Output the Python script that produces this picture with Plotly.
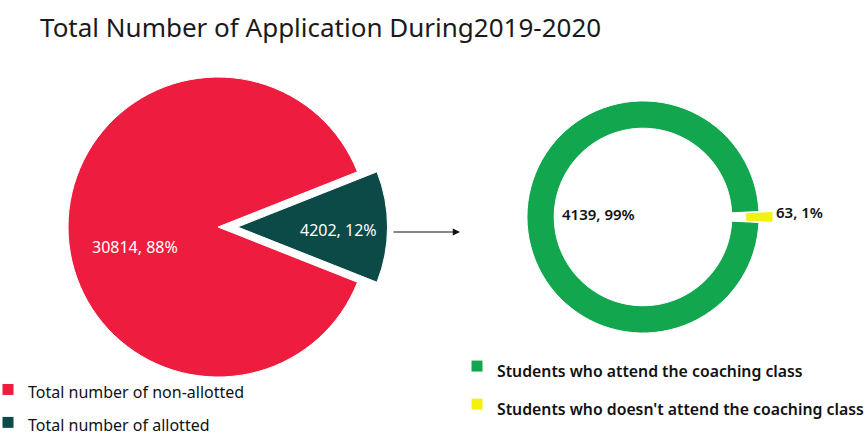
import plotly.graph_objects as go

# Application totals for 2019-2020
app_labels = ["Total number of non-allotted", "Total number of allotted"]
app_values = [30814, 4202]
app_colors = ["#EE1D3F", "#0C4A47"]

# Allotted students split by coaching-class attendance
coach_labels = ["Students who attend the coaching class",
                "Students who doesn't attend the coaching class"]
coach_values = [4139, 63]
coach_colors = ["#12A64F", "#F2F20E"]

W, H = 866, 438


def px_x(x):
    return x / W


def px_y(y):
    return 1 - y / H


def label_text(values, i):
    total = sum(values)
    return f"{values[i]}, {round(100 * values[i] / total)}%"


def legend_label(text, size):
    return f"<span style='font-size:{size}px'>{text}</span>"


# rotate so the last slice is centred at 3 o'clock
app_rot = 90 + 360 * app_values[-1] / sum(app_values) / 2
coach_rot = 90 + 360 * coach_values[-1] / sum(coach_values) / 2

fig = go.Figure()

fig.add_trace(go.Pie(
    labels=[legend_label(t, 16) for t in app_labels],
    values=app_values,
    marker=dict(colors=app_colors, line=dict(color="white", width=1)),
    pull=[0, 0.13], sort=False, direction="clockwise", rotation=app_rot,
    textinfo="none", hoverinfo="value+percent",
    domain=dict(x=[0.056, 0.4475], y=[0.0947, 0.8687]),
    legend="legend",
))

fig.add_trace(go.Pie(
    labels=[legend_label(t, 15.8) for t in coach_labels],
    values=coach_values, hole=0.765,
    marker=dict(colors=coach_colors, line=dict(color="white", width=1)),
    pull=[0, 0.12], sort=False, direction="clockwise", rotation=coach_rot,
    textinfo="none", hoverinfo="value+percent",
    domain=dict(x=[0.5924, 0.8926], y=[0.2078, 0.8014]),
    legend="legend2",
))

white_font = dict(family="Noto Sans", size=16, color="white")
dark_font = dict(family="Noto Sans", size=15, color="#111111", weight=600)
annotations = [
    dict(x=px_x(135), y=px_y(247), text=label_text(app_values, 0), font=white_font),
    dict(x=px_x(338), y=px_y(230), text=label_text(app_values, 1), font=white_font),
    dict(x=px_x(598), y=px_y(214), text=label_text(coach_values, 0), font=dark_font),
    dict(x=px_x(799), y=px_y(212), text=label_text(coach_values, 1), font=dark_font),
]
for a in annotations:
    a.update(xref="paper", yref="paper", showarrow=False,
             xanchor="center", yanchor="middle")

# arrow linking the allotted slice to the breakdown donut
annotations.append(dict(
    x=px_x(460), y=px_y(232), xref="paper", yref="paper",
    ax=-68, ay=0, axref="pixel", ayref="pixel", text="",
    showarrow=True, arrowhead=2, arrowsize=1.2, arrowwidth=1.2,
    arrowcolor="#111111",
))

fig.update_layout(
    width=W, height=H,
    margin=dict(l=0, r=0, t=0, b=0, autoexpand=False),
    paper_bgcolor="white", plot_bgcolor="white",
    title=dict(text="Total Number of Application During2019-2020",
               x=px_x(40), xanchor="left", xref="paper",
               y=1 - 28 / H, yanchor="middle", yref="container",
               font=dict(family="Noto Sans", size=26, color="#1A1A1A")),
    legend=dict(x=-12 / W, xanchor="left", y=px_y(368), yanchor="top",
                font=dict(family="Noto Sans", size=23, color="#111111"),
                bgcolor="rgba(0,0,0,0)", traceorder="normal"),
    legend2=dict(x=457 / W, xanchor="left", y=px_y(342), yanchor="top",
                 font=dict(family="Noto Sans", size=27, color="#111111",
                           weight=600),
                 bgcolor="rgba(0,0,0,0)", traceorder="normal"),
    annotations=annotations,
)

fig.write_html("out.html")
